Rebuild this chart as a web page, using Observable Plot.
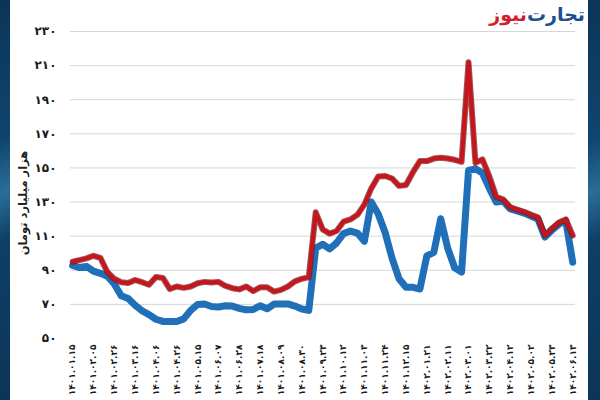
<!DOCTYPE html>
<html>
<head>
<meta charset="utf-8">
<script src="https://cdn.jsdelivr.net/npm/d3@7"></script>
<script src="https://cdn.jsdelivr.net/npm/@observablehq/plot@0.6"></script>
<style>
  html, body { margin: 0; padding: 0; background: #fff; }
  #wrap { position: relative; width: 600px; height: 400px; overflow: hidden; background: #fff; font-family: "DejaVu Sans", sans-serif; }
  .strip { position: absolute; top: 0; height: 400px; background: linear-gradient(160deg, #0b3558 0%, #10456f 35%, #2a6e98 48%, #0f3f66 60%, #0b3558 100%); }
  #left { left: 0; width: 10px; }
  #right { left: 588px; width: 12px; }
  #chart { position: absolute; left: 0; top: 0; }
  #ytitle { position: absolute; left: 23px; top: 203px; transform: translate(-50%, -50%) rotate(-90deg); white-space: nowrap; font-size: 11.5px; font-weight: bold; color: #222; direction: rtl; }
  #logo { position: absolute; right: 15px; top: 3px; font-size: 19px; font-weight: bold; direction: rtl; white-space: nowrap; }
  #logo span { display: inline-block; }
  #chart svg text { font-weight: bold; fill: #1a1a1a; }
</style>
</head>
<body>
<div id="wrap">
  <div class="strip" id="left"></div>
  <div class="strip" id="right"></div>
  <div id="chart"></div>
  <div id="ytitle">هزار میلیارد تومان</div>
  <div id="logo"><span style="color:#1b4f8f">تجارت</span><span style="color:#d11f2e">نیوز</span></div>
</div>
<script>
const xLabels = ["۱۴۰۱.۰۱.۱۵","۱۴۰۱.۰۲.۰۵","۱۴۰۱.۰۲.۲۶","۱۴۰۱.۰۳.۱۶","۱۴۰۱.۰۴.۰۶","۱۴۰۱.۰۴.۲۶","۱۴۰۱.۰۵.۱۵","۱۴۰۱.۰۶.۰۷","۱۴۰۱.۰۶.۲۸","۱۴۰۱.۰۷.۱۸","۱۴۰۱.۰۸.۰۹","۱۴۰۱.۰۸.۳۰","۱۴۰۱.۰۹.۲۳","۱۴۰۱.۱۰.۱۲","۱۴۰۱.۱۱.۰۳","۱۴۰۱.۱۱.۲۴","۱۴۰۱.۱۲.۱۵","۱۴۰۲.۰۱.۲۱","۱۴۰۲.۰۲.۱۱","۱۴۰۲.۰۳.۰۱","۱۴۰۲.۰۳.۲۲","۱۴۰۲.۰۴.۱۲","۱۴۰۲.۰۵.۰۲","۱۴۰۲.۰۵.۲۳","۱۴۰۲.۰۶.۱۳"];
const yTicks = [50, 70, 90, 110, 130, 150, 170, 190, 210, 230];
const seriesRed = [95,96,97,98.5,97.3,89,85,83,82.5,84.3,83,81.5,86,85.5,79,80.5,79.7,80.5,82.4,83.2,82.8,83.2,80.8,79.5,78.8,80.5,77.8,80,80.1,77.5,78.5,80.5,83.5,85,86,124,114,111.5,113,118.5,119.8,122.5,128.5,138,145,145.3,143.8,139.5,140,147.5,154,154,155.5,156,155.5,154.8,153.6,212,153,155,145,133,131.5,127,125.5,124.3,122.5,121,110.5,114.5,118,119.8,110.4];
const seriesBlue = [92.8,91.6,92.3,89.5,88.2,86.5,82,75,73.4,69.5,66.3,64,61.3,60,60,60,61.5,66.5,70,70.2,68.8,68.5,69.2,69,67.7,66.8,67,69.2,67.4,70.2,70.3,70.3,69,67.3,66.5,103,105.3,102.5,106,111.5,113,111.8,107,130,123,112,97,85,80,80,79,98.5,100.5,120.2,103,91.5,89,148.5,149.5,147,138,130,130.5,126,124.8,123.5,121.8,120,109.5,113.5,117,119,94.7];

const toFa = s => String(s).replace(/\d/g, d => "۰۱۲۳۴۵۶۷۸۹"[d]);
const idx = seriesRed.map((_, i) => i);
const tickIdx = xLabels.map((_, i) => i * 3);

const chart = Plot.plot({
  width: 600,
  height: 400,
  marginLeft: 70,
  marginRight: 25,
  marginTop: 31,
  marginBottom: 62,
  style: { background: "transparent", fontFamily: "DejaVu Sans, sans-serif" },
  x: { domain: [-0.3, 72.4], axis: null },
  y: { domain: [50, 230], axis: null },
  marks: [
    Plot.ruleY(yTicks.filter(v => v > 50), { stroke: "#d6d6d6", strokeWidth: 1 }),
    Plot.axisY({ ticks: yTicks, tickSize: 0, tickPadding: 14, tickFormat: toFa, fontSize: 12, label: null }),
    Plot.axisX({ ticks: tickIdx, tickFormat: i => xLabels[i / 3], tickRotate: -90, tickSize: 0, tickPadding: 6, fontSize: 9, label: null }),
    Plot.line(idx, { x: i => i, y: i => seriesBlue[i], stroke: "#1f6fb9", strokeWidth: 7, strokeLinejoin: "round", strokeLinecap: "round" }),
    Plot.line(idx, { x: i => i, y: i => seriesRed[i], stroke: "#7a1013", strokeWidth: 6, strokeOpacity: 0.7, strokeLinejoin: "round", strokeLinecap: "round" }),
    Plot.line(idx, { x: i => i, y: i => seriesRed[i], stroke: "#c4161c", strokeWidth: 4, strokeLinejoin: "round", strokeLinecap: "round" })
  ]
});
document.getElementById("chart").appendChild(chart);
</script>
</body>
</html>
